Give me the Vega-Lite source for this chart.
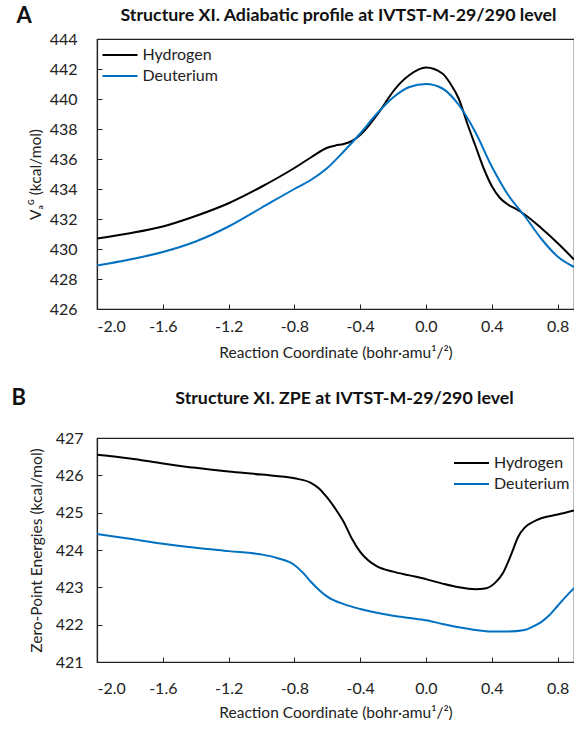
{
  "$schema": "https://vega.github.io/schema/vega-lite/v6.json",
  "padding": {"left": 11, "top": 4, "right": 0, "bottom": 2},
  "background": "white",
  "config": {
    "font": "Lato",
    "view": {"stroke": "#222", "strokeWidth": 1.2},
    "axis": {"grid": false, "domainColor": "#222", "tickColor": "#222", "labelColor": "#222", "titleColor": "#222", "labelFontSize": 16, "titleFontSize": 15.5, "titleFontWeight": "normal", "tickSize": -5, "domainWidth": 1.2},
    "axisX": {"labelPadding": 14, "titlePadding": 8},
    "axisY": {"labelPadding": 19},
    "title": {"fontSize": 17.8, "fontWeight": "bold", "color": "#111"},
    "legend": {"labelFontSize": 16, "labelColor": "#222", "symbolType": "M-1.75,0H1.75", "symbolSize": 400, "symbolStrokeWidth": 2, "rowPadding": 2, "labelOffset": 11.5, "title": null}
  },
  "datasets": {
    "panelA": [
      {"iso": "Hydrogen", "x": -2.0, "y": 430.7},
      {"iso": "Hydrogen", "x": -1.8, "y": 431.05},
      {"iso": "Hydrogen", "x": -1.6, "y": 431.5},
      {"iso": "Hydrogen", "x": -1.4, "y": 432.2},
      {"iso": "Hydrogen", "x": -1.2, "y": 433.05},
      {"iso": "Hydrogen", "x": -1.0, "y": 434.15},
      {"iso": "Hydrogen", "x": -0.8, "y": 435.4},
      {"iso": "Hydrogen", "x": -0.7, "y": 436.1},
      {"iso": "Hydrogen", "x": -0.6, "y": 436.75},
      {"iso": "Hydrogen", "x": -0.55, "y": 436.9},
      {"iso": "Hydrogen", "x": -0.5, "y": 437.0},
      {"iso": "Hydrogen", "x": -0.45, "y": 437.2},
      {"iso": "Hydrogen", "x": -0.4, "y": 437.6},
      {"iso": "Hydrogen", "x": -0.35, "y": 438.2},
      {"iso": "Hydrogen", "x": -0.3, "y": 438.9},
      {"iso": "Hydrogen", "x": -0.25, "y": 439.7},
      {"iso": "Hydrogen", "x": -0.2, "y": 440.5},
      {"iso": "Hydrogen", "x": -0.1, "y": 441.6},
      {"iso": "Hydrogen", "x": 0.0, "y": 442.1},
      {"iso": "Hydrogen", "x": 0.1, "y": 441.7},
      {"iso": "Hydrogen", "x": 0.15, "y": 441.0},
      {"iso": "Hydrogen", "x": 0.2, "y": 440.0},
      {"iso": "Hydrogen", "x": 0.25, "y": 438.4},
      {"iso": "Hydrogen", "x": 0.3, "y": 436.9},
      {"iso": "Hydrogen", "x": 0.35, "y": 435.4},
      {"iso": "Hydrogen", "x": 0.4, "y": 434.2},
      {"iso": "Hydrogen", "x": 0.45, "y": 433.4},
      {"iso": "Hydrogen", "x": 0.5, "y": 432.95},
      {"iso": "Hydrogen", "x": 0.55, "y": 432.65},
      {"iso": "Hydrogen", "x": 0.6, "y": 432.3},
      {"iso": "Hydrogen", "x": 0.7, "y": 431.4},
      {"iso": "Hydrogen", "x": 0.8, "y": 430.4},
      {"iso": "Hydrogen", "x": 0.9, "y": 429.3},
      {"iso": "Deuterium", "x": -2.0, "y": 428.9},
      {"iso": "Deuterium", "x": -1.8, "y": 429.3},
      {"iso": "Deuterium", "x": -1.6, "y": 429.8},
      {"iso": "Deuterium", "x": -1.4, "y": 430.5},
      {"iso": "Deuterium", "x": -1.2, "y": 431.5},
      {"iso": "Deuterium", "x": -1.0, "y": 432.75},
      {"iso": "Deuterium", "x": -0.8, "y": 434.0},
      {"iso": "Deuterium", "x": -0.7, "y": 434.6},
      {"iso": "Deuterium", "x": -0.6, "y": 435.4},
      {"iso": "Deuterium", "x": -0.5, "y": 436.5},
      {"iso": "Deuterium", "x": -0.4, "y": 437.7},
      {"iso": "Deuterium", "x": -0.3, "y": 439.0},
      {"iso": "Deuterium", "x": -0.2, "y": 440.1},
      {"iso": "Deuterium", "x": -0.1, "y": 440.8},
      {"iso": "Deuterium", "x": 0.0, "y": 441.0},
      {"iso": "Deuterium", "x": 0.1, "y": 440.7},
      {"iso": "Deuterium", "x": 0.2, "y": 439.6},
      {"iso": "Deuterium", "x": 0.3, "y": 437.8},
      {"iso": "Deuterium", "x": 0.4, "y": 435.5},
      {"iso": "Deuterium", "x": 0.5, "y": 433.6},
      {"iso": "Deuterium", "x": 0.6, "y": 432.2},
      {"iso": "Deuterium", "x": 0.7, "y": 430.7},
      {"iso": "Deuterium", "x": 0.8, "y": 429.5},
      {"iso": "Deuterium", "x": 0.9, "y": 428.8}
    ],
    "panelB": [
      {"iso": "Hydrogen", "x": -2.0, "y": 426.55},
      {"iso": "Hydrogen", "x": -1.8, "y": 426.45},
      {"iso": "Hydrogen", "x": -1.6, "y": 426.32},
      {"iso": "Hydrogen", "x": -1.4, "y": 426.2},
      {"iso": "Hydrogen", "x": -1.2, "y": 426.1},
      {"iso": "Hydrogen", "x": -1.0, "y": 426.02},
      {"iso": "Hydrogen", "x": -0.8, "y": 425.92},
      {"iso": "Hydrogen", "x": -0.7, "y": 425.8},
      {"iso": "Hydrogen", "x": -0.65, "y": 425.65},
      {"iso": "Hydrogen", "x": -0.6, "y": 425.4},
      {"iso": "Hydrogen", "x": -0.55, "y": 425.1},
      {"iso": "Hydrogen", "x": -0.5, "y": 424.75},
      {"iso": "Hydrogen", "x": -0.45, "y": 424.3},
      {"iso": "Hydrogen", "x": -0.4, "y": 423.95},
      {"iso": "Hydrogen", "x": -0.35, "y": 423.72},
      {"iso": "Hydrogen", "x": -0.3, "y": 423.57},
      {"iso": "Hydrogen", "x": -0.2, "y": 423.42},
      {"iso": "Hydrogen", "x": -0.1, "y": 423.32},
      {"iso": "Hydrogen", "x": 0.0, "y": 423.22},
      {"iso": "Hydrogen", "x": 0.1, "y": 423.1},
      {"iso": "Hydrogen", "x": 0.2, "y": 423.0},
      {"iso": "Hydrogen", "x": 0.3, "y": 422.95},
      {"iso": "Hydrogen", "x": 0.36, "y": 422.97},
      {"iso": "Hydrogen", "x": 0.42, "y": 423.12},
      {"iso": "Hydrogen", "x": 0.47, "y": 423.4},
      {"iso": "Hydrogen", "x": 0.52, "y": 423.9},
      {"iso": "Hydrogen", "x": 0.56, "y": 424.35},
      {"iso": "Hydrogen", "x": 0.6, "y": 424.6},
      {"iso": "Hydrogen", "x": 0.65, "y": 424.75},
      {"iso": "Hydrogen", "x": 0.7, "y": 424.85},
      {"iso": "Hydrogen", "x": 0.8, "y": 424.95},
      {"iso": "Hydrogen", "x": 0.9, "y": 425.06},
      {"iso": "Deuterium", "x": -2.0, "y": 424.43},
      {"iso": "Deuterium", "x": -1.8, "y": 424.3},
      {"iso": "Deuterium", "x": -1.6, "y": 424.17},
      {"iso": "Deuterium", "x": -1.4, "y": 424.06},
      {"iso": "Deuterium", "x": -1.2, "y": 423.97},
      {"iso": "Deuterium", "x": -1.0, "y": 423.88},
      {"iso": "Deuterium", "x": -0.9, "y": 423.78},
      {"iso": "Deuterium", "x": -0.8, "y": 423.6},
      {"iso": "Deuterium", "x": -0.75, "y": 423.4},
      {"iso": "Deuterium", "x": -0.7, "y": 423.15},
      {"iso": "Deuterium", "x": -0.65, "y": 422.93},
      {"iso": "Deuterium", "x": -0.6, "y": 422.75},
      {"iso": "Deuterium", "x": -0.5, "y": 422.55},
      {"iso": "Deuterium", "x": -0.4, "y": 422.42},
      {"iso": "Deuterium", "x": -0.3, "y": 422.32},
      {"iso": "Deuterium", "x": -0.2, "y": 422.24},
      {"iso": "Deuterium", "x": -0.1, "y": 422.18},
      {"iso": "Deuterium", "x": 0.0, "y": 422.12},
      {"iso": "Deuterium", "x": 0.1, "y": 422.02},
      {"iso": "Deuterium", "x": 0.2, "y": 421.93},
      {"iso": "Deuterium", "x": 0.3, "y": 421.86},
      {"iso": "Deuterium", "x": 0.4, "y": 421.82},
      {"iso": "Deuterium", "x": 0.5, "y": 421.82},
      {"iso": "Deuterium", "x": 0.6, "y": 421.86},
      {"iso": "Deuterium", "x": 0.65, "y": 421.95},
      {"iso": "Deuterium", "x": 0.7, "y": 422.07},
      {"iso": "Deuterium", "x": 0.75, "y": 422.25},
      {"iso": "Deuterium", "x": 0.8, "y": 422.5},
      {"iso": "Deuterium", "x": 0.85, "y": 422.75},
      {"iso": "Deuterium", "x": 0.9, "y": 422.98}
    ]
  },
  "resolve": {"scale": {"color": "independent", "x": "independent", "y": "independent"}, "legend": {"color": "independent"}},
  "columns": 1,
  "align": "none",
  "spacing": 24,
  "concat": [
    {
      "title": {"text": "A", "anchor": "start", "frame": "bounds", "fontSize": 22, "offset": -21, "dx": -11},
      "vconcat": [
        {
          "title": {"text": "Structure XI. Adiabatic profile at IVTST-M-29/290 level", "anchor": "middle", "frame": "group", "offset": 6, "dx": 3},
          "width": 477,
          "height": 270,
          "data": {"name": "panelA"},
          "mark": {"type": "line", "interpolate": "monotone", "strokeWidth": 2, "clip": true},
          "encoding": {
            "x": {"field": "x", "type": "quantitative", "scale": {"domain": [-2.0, 0.9], "nice": false, "zero": false}, "axis": {"values": [-2.0, -1.6, -1.2, -0.8, -0.4, 0.0, 0.4, 0.8], "labelExpr": "replace(format(datum.value, '.1f'), '−', '-')", "title": "Reaction Coordinate (bohr·amu¹/²)", "titlePadding": 11}},
            "y": {"field": "y", "type": "quantitative", "scale": {"domain": [426, 444], "nice": false, "zero": false}, "axis": {"values": [426, 428, 430, 432, 434, 436, 438, 440, 442, 444], "title": "Vₐᴳ (kcal/mol)", "titlePadding": 6, "labelPadding": 25}},
            "color": {"field": "iso", "type": "nominal", "scale": {"domain": ["Hydrogen", "Deuterium"], "range": ["#000000", "#0070C0"]}, "legend": {"orient": "none", "legendX": 12, "legendY": 5}}
          }
        }
      ]
    },
    {
      "title": {"text": "B", "anchor": "start", "frame": "bounds", "fontSize": 22, "offset": -20, "dx": -17},
      "vconcat": [
        {
          "title": {"text": "Structure XI. ZPE at IVTST-M-29/290 level", "anchor": "middle", "frame": "group", "offset": 22, "dx": 9},
          "width": 477,
          "height": 224,
          "data": {"name": "panelB"},
          "mark": {"type": "line", "interpolate": "monotone", "strokeWidth": 2, "clip": true},
          "encoding": {
            "x": {"field": "x", "type": "quantitative", "scale": {"domain": [-2.0, 0.9], "nice": false, "zero": false}, "axis": {"values": [-2.0, -1.6, -1.2, -0.8, -0.4, 0.0, 0.4, 0.8], "labelExpr": "replace(format(datum.value, '.1f'), '−', '-')", "title": "Reaction Coordinate (bohr·amu¹/²)", "labelPadding": 23, "titlePadding": 9}},
            "y": {"field": "y", "type": "quantitative", "scale": {"domain": [421, 427], "nice": false, "zero": false}, "axis": {"values": [421, 422, 423, 424, 425, 426, 427], "title": "Zero-Point Energies (kcal/mol)", "titlePadding": 11}},
            "color": {"field": "iso", "type": "nominal", "scale": {"domain": ["Hydrogen", "Deuterium"], "range": ["#000000", "#0070C0"]}, "legend": {"orient": "none", "legendX": 363.5, "legendY": 14}}
          }
        }
      ]
    }
  ]
}
